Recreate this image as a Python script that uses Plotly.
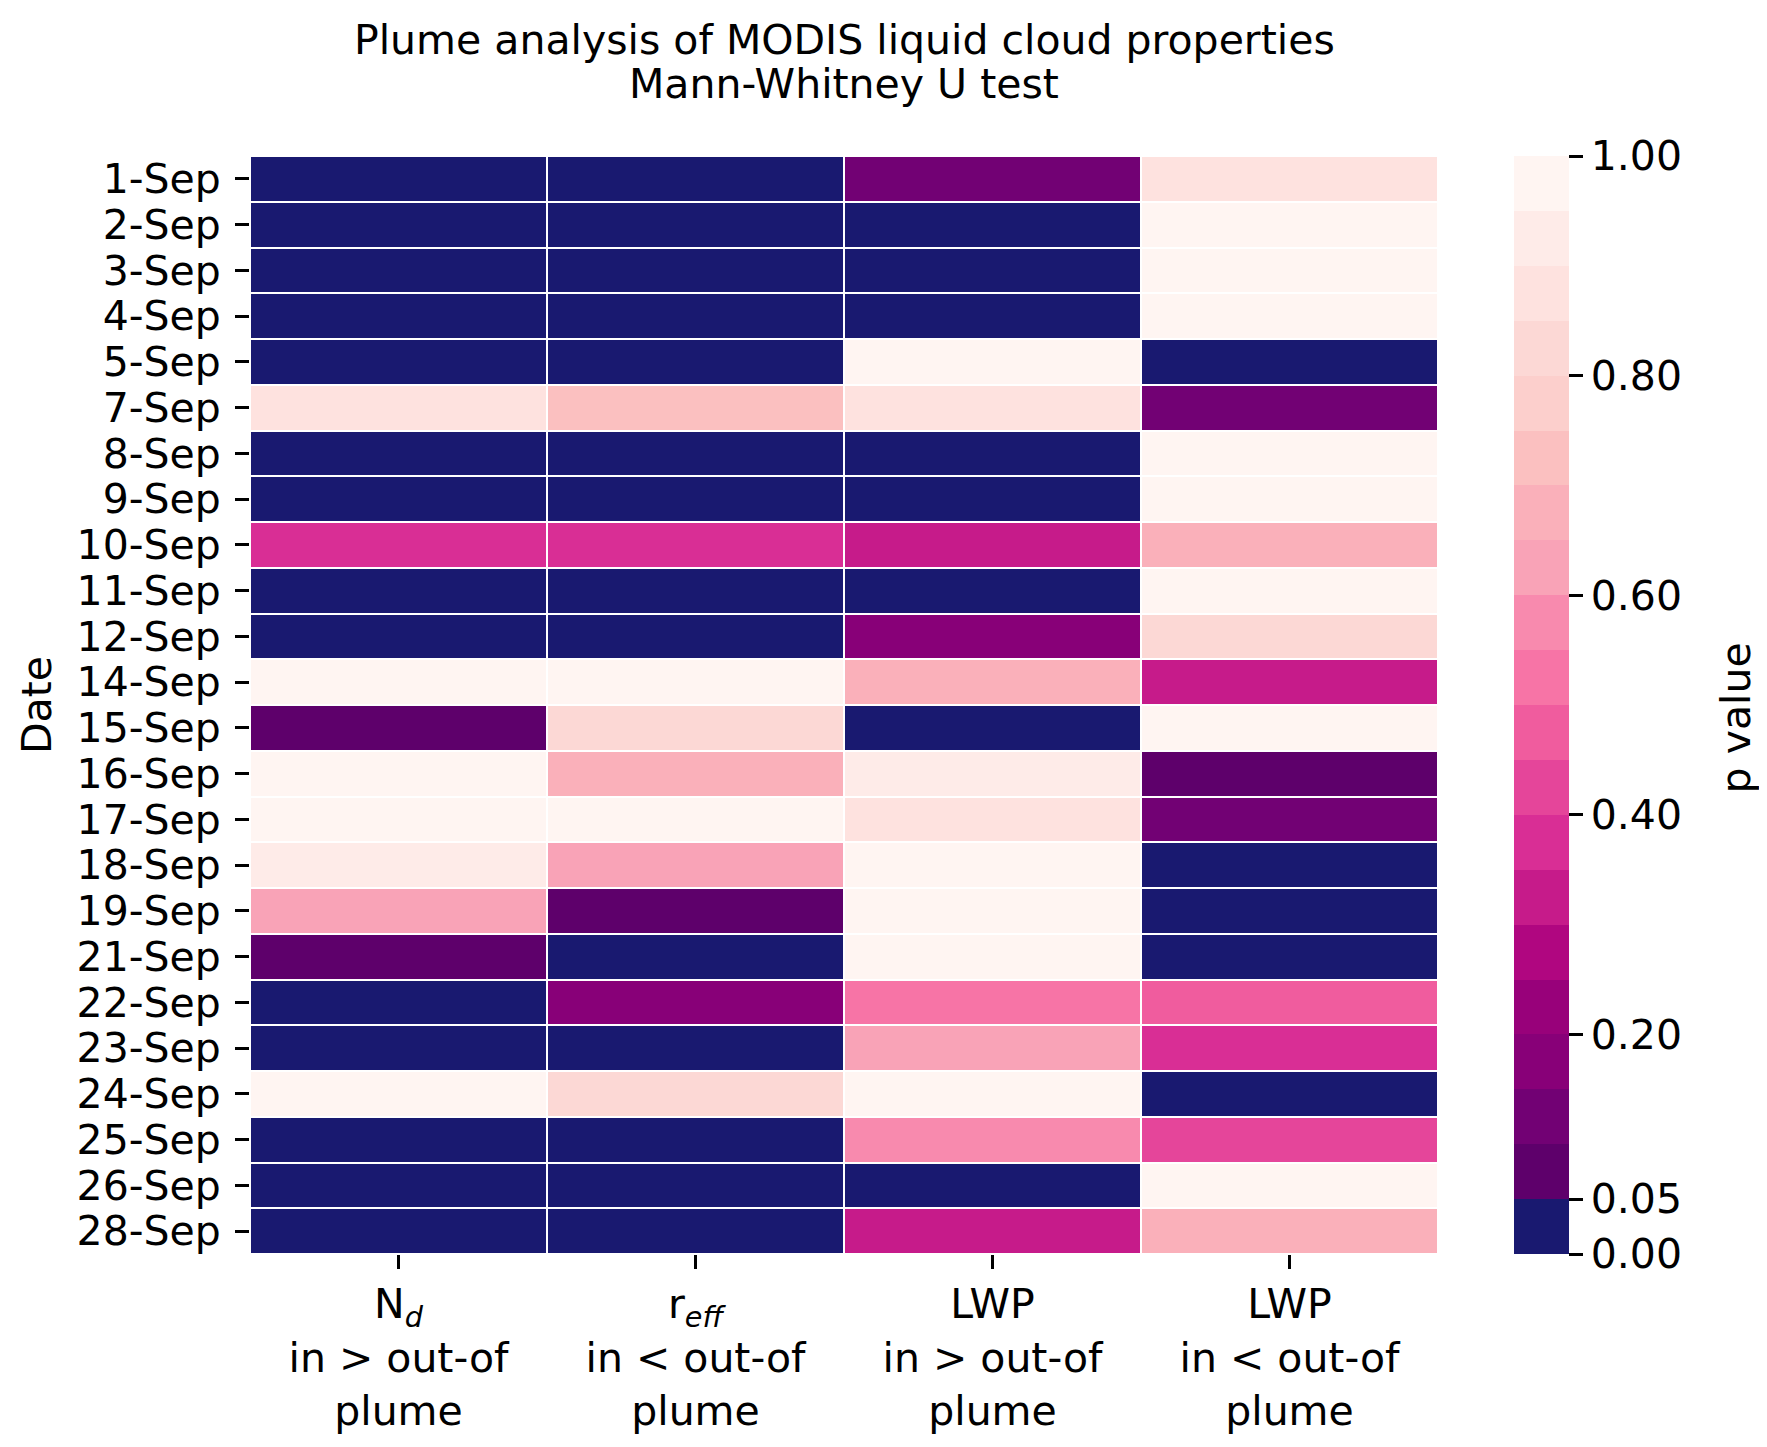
"""
Heatmap of Mann-Whitney U test p values for MODIS plume analysis
"""

import plotly.graph_objects as go

dates = ["1-Sep", "2-Sep", "3-Sep", "4-Sep", "5-Sep", "7-Sep", "8-Sep", "9-Sep",
         "10-Sep", "11-Sep", "12-Sep", "14-Sep", "15-Sep", "16-Sep", "17-Sep",
         "18-Sep", "19-Sep", "21-Sep", "22-Sep", "23-Sep", "24-Sep", "25-Sep",
         "26-Sep", "28-Sep"]

tests = ["N<sub><i>d</i></sub><br>in &gt; out-of<br>plume",
         "r<sub><i>eff</i></sub><br>in &lt; out-of<br>plume",
         "LWP<br>in &gt; out-of<br>plume",
         "LWP<br>in &lt; out-of<br>plume"]

# p values, one list per test
p_nd = [0.001, 0.001, 0.001, 0.001, 0.001, 0.87, 0.001, 0.001, 0.37, 0.001, 0.001, 0.98,
        0.07, 0.98, 0.98, 0.92, 0.62, 0.07, 0.001, 0.001, 0.98, 0.001, 0.001, 0.001]
p_reff = [0.001, 0.001, 0.001, 0.001, 0.001, 0.72, 0.001, 0.001, 0.37, 0.001, 0.001, 0.98,
          0.82, 0.67, 0.98, 0.62, 0.07, 0.001, 0.17, 0.001, 0.82, 0.001, 0.001, 0.001]
p_lwp_gt = [0.12, 0.001, 0.001, 0.001, 0.98, 0.87, 0.001, 0.001, 0.32, 0.001, 0.17, 0.67,
            0.001, 0.92, 0.87, 0.98, 0.98, 0.98, 0.52, 0.62, 0.98, 0.57, 0.001, 0.32]
p_lwp_lt = [0.87, 0.98, 0.98, 0.98, 0.001, 0.12, 0.98, 0.98, 0.67, 0.98, 0.82, 0.32,
            0.98, 0.07, 0.12, 0.001, 0.001, 0.001, 0.47, 0.37, 0.001, 0.42, 0.98, 0.67]

cbar_ticks = [0.0, 0.05, 0.2, 0.4, 0.6, 0.8, 1.0]

# 20 bins of 0.05: navy below 0.05, then RdPu (dark -> light)
bin_colours = ["#191970", "#5e006b", "#720174", "#880078", "#98017a", "#b00680",
               "#c61b8a", "#d92e95", "#e5459a", "#f05c9e", "#f774a6", "#f88aae",
               "#f9a3b7", "#fab0ba", "#fbc0c0", "#fccfcc", "#fcd8d5", "#fee2df",
               "#feebe8", "#fff5f2"]

n_bins = len(bin_colours)
colorscale = []
for i, c in enumerate(bin_colours):
    colorscale.append([i / n_bins, c])
    colorscale.append([(i + 1) / n_bins, c])

# rows = dates, columns = tests
z = [list(row) for row in zip(p_nd, p_reff, p_lwp_gt, p_lwp_lt)]

font = dict(family="DejaVu Sans", size=41, color="black")

# page body adds an 8px margin, so the figure is 8px smaller than the window
W, H = 1759, 1439
L, T = 242, 148
PW, PH = 1188, 1107

fig = go.Figure(go.Heatmap(
    z=z, x=tests, y=dates,
    zmin=0, zmax=1,
    colorscale=colorscale,
    xgap=2, ygap=2,
    colorbar=dict(
        x=1264 / PW, xanchor="left", xpad=0,
        y=0.5, yanchor="middle", ypad=0,
        len=1, lenmode="fraction", thickness=55, thicknessmode="pixels",
        outlinewidth=0,
        tickvals=cbar_ticks,
        ticktext=[f"{t:.2f}" for t in cbar_ticks],
        ticks="outside", ticklen=14, tickwidth=2.5, tickcolor="black",
        tickfont=font,
    ),
))

fig.update_layout(
    width=W, height=H,
    margin=dict(l=L, r=W - L - PW, t=T, b=H - T - PH, pad=0),
    paper_bgcolor="white", plot_bgcolor="white",
    font=font,
    xaxis=dict(showgrid=False, zeroline=False, showline=False,
               tickmode="array", tickvals=tests, ticktext=tests,
               ticks="outside", ticklen=14, tickwidth=2.5, tickcolor="black",
               tickfont=font),
    yaxis=dict(showgrid=False, zeroline=False, showline=False,
               autorange="reversed",
               tickmode="array", tickvals=dates, ticktext=dates,
               ticks="outside", ticklen=14, tickwidth=2.5, tickcolor="black",
               ticklabelstandoff=6,
               tickfont=font,
               title=dict(text="Date", font=font, standoff=12)),
    annotations=[
        dict(text="Plume analysis of MODIS liquid cloud properties",
             x=0.5, y=1 + (T - 31) / PH, xref="paper", yref="paper",
             xanchor="center", yanchor="middle", showarrow=False, font=font),
        dict(text="Mann-Whitney U test",
             x=0.5, y=1 + (T - 75) / PH, xref="paper", yref="paper",
             xanchor="center", yanchor="middle", showarrow=False, font=font),
        dict(text="p value", textangle=-90,
             x=(1728 - L) / PW, y=1 - (715 - T) / PH, xref="paper", yref="paper",
             xanchor="center", yanchor="middle", showarrow=False, font=font),
    ],
)

fig.write_html("out.html")
